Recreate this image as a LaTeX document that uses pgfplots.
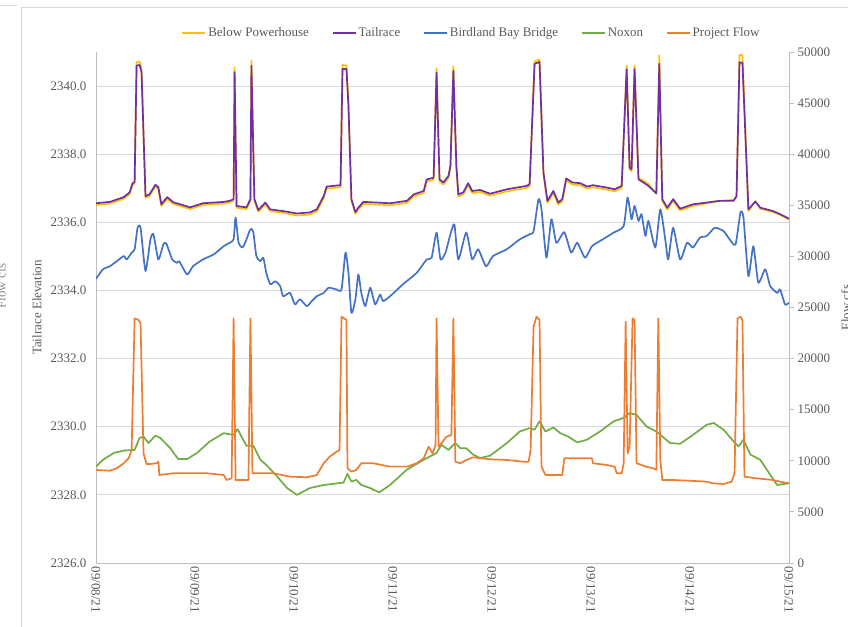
\documentclass[border=0pt]{standalone}
\usepackage{fontspec}
\setmainfont{Liberation Serif}
\usepackage{pgfplots}
\usepackage{pgfplotstable}
\pgfplotsset{compat=1.18}
\definecolor{cBelow}{HTML}{FFC000}
\definecolor{cTail}{HTML}{7030A0}
\definecolor{cBird}{HTML}{4472C4}
\definecolor{cNox}{HTML}{70AD47}
\definecolor{cFlow}{HTML}{ED7D31}
\definecolor{gridc}{HTML}{D9D9D9}
\definecolor{axisc}{HTML}{BFBFBF}
\definecolor{txt}{HTML}{595959}

\pgfplotstableread{
day below tail
0.00 2336.51 2336.56
0.14 2336.55 2336.60
0.28 2336.69 2336.74
0.34 2336.83 2336.88
0.37 2337.10 2337.15
0.39 2337.13 2337.18
0.41 2340.70 2340.60
0.44 2340.72 2340.62
0.46 2340.50 2340.41
0.50 2336.72 2336.77
0.54 2336.77 2336.82
0.60 2337.05 2337.10
0.63 2336.98 2337.03
0.66 2336.48 2336.53
0.72 2336.69 2336.74
0.78 2336.54 2336.59
0.95 2336.39 2336.44
1.08 2336.51 2336.56
1.29 2336.55 2336.60
1.35 2336.58 2336.63
1.39 2336.63 2336.68
1.40 2340.55 2340.41
1.42 2336.43 2336.48
1.52 2336.39 2336.44
1.56 2336.63 2336.68
1.57 2340.75 2340.60
1.60 2336.63 2336.68
1.64 2336.31 2336.36
1.71 2336.53 2336.58
1.76 2336.33 2336.38
1.89 2336.28 2336.33
2.03 2336.20 2336.26
2.16 2336.23 2336.29
2.23 2336.32 2336.38
2.30 2336.71 2336.77
2.33 2336.99 2337.05
2.47 2337.03 2337.09
2.49 2340.62 2340.50
2.53 2340.60 2340.50
2.55 2339.50 2339.42
2.58 2336.63 2336.68
2.62 2336.25 2336.30
2.65 2336.38 2336.43
2.70 2336.54 2336.60
2.84 2336.52 2336.58
2.97 2336.50 2336.56
3.14 2336.57 2336.63
3.21 2336.76 2336.82
3.31 2336.86 2336.92
3.34 2337.20 2337.26
3.41 2337.25 2337.31
3.44 2340.52 2340.40
3.47 2337.20 2337.26
3.51 2337.11 2337.17
3.56 2337.30 2337.36
3.58 2337.60 2337.66
3.61 2340.58 2340.45
3.64 2337.60 2337.66
3.66 2336.76 2336.82
3.71 2336.82 2336.88
3.76 2337.09 2337.15
3.80 2336.86 2336.92
3.88 2336.89 2336.95
3.98 2336.78 2336.84
4.15 2336.91 2336.97
4.35 2337.01 2337.07
4.38 2337.06 2337.12
4.43 2340.72 2340.65
4.48 2340.78 2340.71
4.52 2337.40 2337.46
4.56 2336.57 2336.63
4.62 2336.86 2336.92
4.67 2336.52 2336.58
4.71 2336.62 2336.68
4.75 2337.23 2337.29
4.81 2337.11 2337.17
4.89 2337.09 2337.15
4.96 2336.99 2337.05
5.02 2337.03 2337.09
5.16 2336.96 2337.02
5.24 2336.91 2336.97
5.31 2337.01 2337.07
5.36 2340.60 2340.50
5.39 2337.55 2337.61
5.41 2337.50 2337.56
5.44 2340.60 2340.50
5.48 2337.30 2337.26
5.53 2337.22 2337.17
5.58 2337.12 2337.07
5.66 2336.85 2336.85
5.69 2340.90 2340.65
5.72 2336.63 2336.68
5.77 2336.38 2336.43
5.83 2336.63 2336.68
5.90 2336.35 2336.40
6.03 2336.48 2336.53
6.17 2336.56 2336.58
6.30 2336.63 2336.63
6.44 2336.66 2336.63
6.47 2336.75 2336.77
6.50 2340.92 2340.70
6.53 2340.90 2340.68
6.59 2336.33 2336.38
6.66 2336.62 2336.61
6.71 2336.40 2336.43
6.84 2336.30 2336.33
6.91 2336.22 2336.24
7.00 2336.08 2336.11
}\tailtable

\pgfplotstableread{
day elev
0.00 2334.34
0.07 2334.62
0.14 2334.71
0.21 2334.86
0.28 2335.01
0.31 2334.91
0.36 2335.11
0.39 2335.21
0.42 2335.84
0.45 2335.84
0.50 2334.57
0.55 2335.50
0.58 2335.65
0.63 2334.91
0.68 2335.35
0.71 2335.38
0.77 2334.91
0.82 2334.81
0.84 2334.86
0.92 2334.47
0.98 2334.71
1.08 2334.91
1.19 2335.06
1.29 2335.30
1.35 2335.40
1.39 2335.50
1.41 2336.14
1.44 2335.40
1.48 2335.26
1.52 2335.50
1.55 2335.74
1.57 2335.81
1.59 2335.70
1.62 2335.01
1.66 2334.86
1.69 2334.96
1.72 2334.52
1.76 2334.18
1.81 2334.27
1.86 2334.13
1.89 2333.83
1.96 2333.93
2.01 2333.59
2.06 2333.74
2.13 2333.54
2.18 2333.69
2.23 2333.83
2.30 2333.93
2.35 2334.08
2.43 2334.03
2.48 2334.03
2.52 2335.11
2.55 2334.52
2.58 2333.34
2.62 2333.74
2.65 2334.47
2.68 2333.93
2.72 2333.54
2.77 2334.08
2.82 2333.59
2.87 2333.88
2.90 2333.69
2.97 2333.83
3.10 2334.18
3.24 2334.52
3.34 2334.91
3.39 2334.96
3.44 2335.70
3.48 2334.91
3.53 2335.11
3.58 2335.65
3.62 2335.94
3.66 2334.91
3.74 2335.70
3.80 2334.91
3.86 2335.21
3.94 2334.71
4.01 2335.01
4.15 2335.21
4.28 2335.50
4.38 2335.65
4.42 2335.74
4.47 2336.68
4.50 2336.38
4.55 2334.96
4.60 2336.09
4.65 2335.40
4.73 2335.71
4.80 2335.11
4.86 2335.40
4.94 2334.96
5.01 2335.30
5.09 2335.45
5.23 2335.70
5.33 2335.89
5.37 2336.73
5.41 2336.09
5.44 2336.48
5.48 2336.04
5.51 2336.24
5.55 2335.60
5.58 2336.04
5.65 2335.26
5.70 2336.38
5.75 2335.50
5.78 2334.91
5.83 2335.84
5.90 2334.91
5.97 2335.40
6.03 2335.26
6.10 2335.55
6.17 2335.60
6.25 2335.84
6.34 2335.74
6.40 2335.50
6.46 2335.35
6.51 2336.29
6.54 2336.14
6.59 2334.42
6.64 2335.30
6.69 2334.23
6.76 2334.62
6.81 2334.13
6.88 2333.93
6.91 2334.03
6.96 2333.59
7.00 2333.64
}\birdtable

\pgfplotstableread{
day elev
0.00 2328.83
0.07 2329.03
0.18 2329.23
0.28 2329.30
0.39 2329.32
0.44 2329.67
0.48 2329.71
0.53 2329.52
0.60 2329.74
0.65 2329.67
0.75 2329.37
0.83 2329.05
0.92 2329.05
1.02 2329.23
1.15 2329.57
1.29 2329.81
1.39 2329.76
1.43 2329.93
1.47 2329.71
1.52 2329.44
1.59 2329.44
1.66 2329.03
1.72 2328.88
1.83 2328.54
1.93 2328.20
2.03 2328.00
2.16 2328.20
2.30 2328.29
2.50 2328.36
2.54 2328.62
2.58 2328.39
2.63 2328.44
2.68 2328.29
2.77 2328.20
2.86 2328.07
2.97 2328.29
3.14 2328.74
3.31 2329.03
3.44 2329.23
3.49 2329.47
3.56 2329.32
3.63 2329.52
3.68 2329.37
3.74 2329.37
3.81 2329.18
3.88 2329.08
3.98 2329.15
4.15 2329.52
4.28 2329.86
4.38 2329.96
4.43 2329.91
4.48 2330.16
4.54 2329.86
4.62 2329.98
4.69 2329.81
4.77 2329.71
4.86 2329.54
4.96 2329.62
5.09 2329.86
5.23 2330.16
5.33 2330.26
5.39 2330.40
5.46 2330.35
5.56 2330.01
5.66 2329.86
5.80 2329.52
5.90 2329.50
6.03 2329.76
6.17 2330.06
6.24 2330.11
6.34 2329.91
6.44 2329.57
6.49 2329.42
6.54 2329.62
6.61 2329.18
6.71 2329.03
6.81 2328.59
6.88 2328.29
7.00 2328.34
}\noxtable

\pgfplotstableread{
day flow
0.00 9100
0.14 9030
0.21 9270
0.28 9760
0.33 10250
0.36 11060
0.39 23940
0.43 23780
0.45 23450
0.48 10730
0.51 9690
0.55 9690
0.61 9760
0.63 9910
0.64 8610
0.78 8780
0.95 8780
1.12 8780
1.29 8610
1.32 8120
1.37 8290
1.39 23940
1.41 8120
1.49 8120
1.54 8120
1.56 23940
1.58 8780
1.69 8780
1.79 8780
1.96 8450
2.13 8390
2.23 8610
2.30 9760
2.36 10400
2.43 10890
2.46 11060
2.48 24100
2.53 23780
2.54 9270
2.58 8940
2.63 9100
2.68 9760
2.80 9760
2.97 9430
3.14 9430
3.24 9760
3.31 10250
3.36 11380
3.40 10730
3.43 11550
3.44 23940
3.46 11380
3.49 11710
3.54 12360
3.59 12525
3.61 23940
3.63 9910
3.68 9760
3.74 10080
3.81 10340
3.98 10150
4.15 10080
4.32 9910
4.37 9910
4.39 11060
4.42 23120
4.45 24100
4.48 23780
4.50 9420
4.54 8610
4.62 8610
4.71 8610
4.73 10240
4.82 10240
5.01 10240
5.02 9760
5.16 9590
5.24 9420
5.26 8780
5.31 8780
5.33 9760
5.35 23610
5.37 10730
5.39 11380
5.42 23940
5.44 23780
5.46 9760
5.56 9420
5.63 9270
5.66 9100
5.68 23940
5.70 10080
5.72 8120
5.83 8120
6.00 8050
6.17 7955
6.23 7800
6.34 7730
6.42 7955
6.45 8780
6.48 23940
6.51 24100
6.53 23780
6.55 8450
6.67 8290
6.84 8120
6.91 7955
7.00 7800
}\flowtable

\pgfplotsset{
  chartbase/.style={
    at={(96bp,64bp)}, anchor=south west,
    scale only axis, width=693bp, height=511bp,
    xmin=0, xmax=7,
    font=\fontsize{13bp}{15bp}\selectfont,
    tick label style={font=\fontsize{13bp}{15bp}\selectfont, text=txt},
    label style={font=\fontsize{13bp}{15bp}\selectfont, text=txt},
    /pgf/number format/assume math mode=true,
    axis line style={draw=axisc, line width=0.8bp},
  },
}

\begin{document}
\begin{tikzpicture}
\path[use as bounding box] (0bp,0bp) rectangle (848bp,627bp);
\draw[gridc, line width=0.9bp] (21bp,0bp) -- (21bp,620bp) -- (848bp,620bp);
\draw[gridc, line width=0.9bp] (0bp,622bp) -- (17bp,622bp);
\node[rotate=90, text=txt!70, font=\fontsize{13bp}{15bp}\selectfont] at (1bp,341bp) {Flow cfs};

\begin{axis}[chartbase,
  ymin=2326, ymax=2341,
  axis y line*=left, axis x line*=bottom,
  xtick={0,1,2,3,4,5,6,7},
  xticklabels={09/08/21,09/09/21,09/10/21,09/11/21,09/12/21,09/13/21,09/14/21,09/15/21},
  xticklabel style={rotate=-90, anchor=west},
  ytick={2326,2328,2330,2332,2334,2336,2338,2340},
  yticklabel style={/pgf/number format/fixed, /pgf/number format/fixed zerofill,
    /pgf/number format/precision=1, /pgf/number format/1000 sep={}, xshift=-6bp},
  major tick length=0pt,
  ymajorgrids, grid style={gridc, line width=0.8bp},
  ylabel={Tailrace Elevation},
  ylabel style={at={(axis description cs:-0.0851,0.5)}, anchor=center},
  legend style={at={(axis description cs:0.542,1.037)}, anchor=center, draw=none, fill=none,
    font=\fontsize{13bp}{15bp}\selectfont, text=txt,
    legend columns=-1,
    /tikz/every even column/.append style={column sep=21bp}},
  legend image code/.code={\draw[#1, line width=1.6bp] (0bp,0bp) -- (23bp,0bp);},
]
\addplot[cBelow, line width=1.7bp, line join=round] table[x=day, y=below] {\tailtable};
\addlegendentry{Below Powerhouse}
\addplot[cTail, line width=1.7bp, line join=round] table[x=day, y=tail] {\tailtable};
\addlegendentry{Tailrace}
\addplot[cBird, line width=1.7bp, line join=round, smooth, tension=0.35] table[x=day, y=elev] {\birdtable};
\addlegendentry{Birdland Bay Bridge}
\addplot[cNox, line width=1.7bp, line join=round] table[x=day, y=elev] {\noxtable};
\addlegendentry{Noxon}
\addlegendimage{cFlow}
\addlegendentry{Project Flow}
\end{axis}

\begin{axis}[chartbase,
  ymin=0, ymax=50000,
  axis y line*=right, axis x line=none,
  ytick={0,5000,10000,15000,20000,25000,30000,35000,40000,45000,50000},
  scaled y ticks=false,
  yticklabel style={/pgf/number format/fixed, /pgf/number format/1000 sep={}},
  tick align=outside, major tick length=5bp,
  ytick style={draw=axisc, line width=0.8bp},
  ylabel={Flow cfs},
  ylabel style={at={(axis description cs:1.082,0.5)}, anchor=center},
]
\addplot[cFlow, line width=1.7bp, line join=round] table[x=day, y=flow] {\flowtable};
\end{axis}
\end{tikzpicture}
\end{document}
